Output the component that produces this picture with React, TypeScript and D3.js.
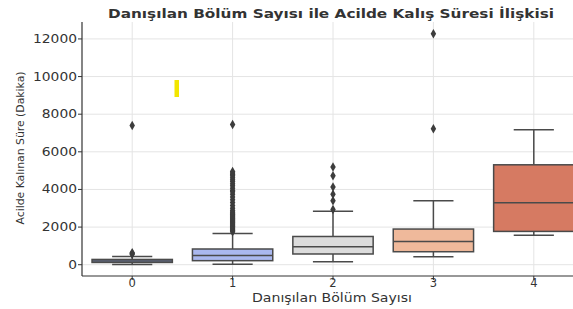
import * as d3 from "d3";

// Boxplot: consulted department count vs. ED length of stay (minutes)
const categories = ["0", "1", "2", "3", "4"];
const q1 = [120, 215, 570, 690, 1770];
const medians = [200, 495, 960, 1240, 3290];
const q3 = [280, 835, 1500, 1895, 5310];
const whiskLow = [10, 30, 160, 425, 1560];
const whiskHigh = [430, 1660, 2840, 3400, 7170];
const outliers: number[][] = [
  [560, 600, 640, 7400],
  [
    1750, 1800, 1850, 1900, 1950, 2000, 2050, 2100, 2150, 2200, 2250, 2300, 2350,
    2400, 2450, 2500, 2550, 2600, 2650, 2700, 2750, 2800, 2880, 3000, 3150, 3300,
    3450, 3600, 3750, 3880, 3950, 4070, 4200, 4300, 4420, 4510, 4620, 4730, 4800,
    4870, 4950, 7450,
  ],
  [2930, 3400, 3750, 4130, 4730, 5190],
  [7220, 12270],
  [],
];
const fills = ["#8ea6ee", "#aab8ef", "#dcdcdc", "#efb99b", "#d67a62"];
const yTicks = [0, 2000, 4000, 6000, 8000, 10000, 12000];

const W = 573;
const H = 309;
const L = 82;
const T = 22;
const B = 276;

export default function App() {
  const x = d3.scaleBand<string>().domain(categories).range([L, 584]).padding(0);
  const y = d3.scaleLinear().domain([-600, 12900]).range([B, T]);
  const bw = x.bandwidth();
  const boxW = bw * 0.8;
  const cx = (c: string) => (x(c) ?? 0) + bw / 2;
  const ink = "#4a4a4a";
  const diamond = d3.symbol(d3.symbolDiamond, 26)() ?? "";

  return (
    <svg
      width={W}
      height={H}
      viewBox={`0 0 ${W} ${H}`}
      style={{ position: "absolute", left: 0, top: 0, background: "#fff", fontFamily: "DejaVu Sans" }}
    >
      {/* grid */}
      {yTicks.map((t) => (
        <line key={"gy" + t} x1={L} x2={W} y1={y(t)} y2={y(t)} stroke="#e4e4e4" strokeWidth={1} />
      ))}
      {categories.map((c) => (
        <line key={"gx" + c} x1={cx(c)} x2={cx(c)} y1={T} y2={B} stroke="#e4e4e4" strokeWidth={1} />
      ))}

      {/* boxes */}
      {categories.map((c, i) => {
        const m = cx(c);
        return (
          <g key={"b" + c} stroke={ink} strokeWidth={1.5}>
            <line x1={m} x2={m} y1={y(whiskLow[i])} y2={y(q1[i])} />
            <line x1={m} x2={m} y1={y(q3[i])} y2={y(whiskHigh[i])} />
            <line x1={m - boxW / 4} x2={m + boxW / 4} y1={y(whiskLow[i])} y2={y(whiskLow[i])} />
            <line x1={m - boxW / 4} x2={m + boxW / 4} y1={y(whiskHigh[i])} y2={y(whiskHigh[i])} />
            <rect x={m - boxW / 2} y={y(q3[i])} width={boxW} height={y(q1[i]) - y(q3[i])} fill={fills[i]} />
            <line x1={m - boxW / 2} x2={m + boxW / 2} y1={y(medians[i])} y2={y(medians[i])} />
            {outliers[i].map((v, j) => (
              <path key={j} d={diamond} transform={`translate(${m},${y(v)})`} fill="#3d3d3d" stroke="none" />
            ))}
          </g>
        );
      })}

      {/* axes */}
      <line x1={L} x2={L} y1={T} y2={B} stroke="#333" strokeWidth={1.2} />
      <line x1={L} x2={W} y1={B} y2={B} stroke="#333" strokeWidth={1.2} />
      {yTicks.map((t) => (
        <g key={"ty" + t}>
          <line x1={L - 4} x2={L} y1={y(t)} y2={y(t)} stroke="#333" />
          <text
            x={L - 5}
            y={y(t)}
            dy="0.35em"
            textAnchor="end"
            fontSize={11.5}
            fill="#333"
            textLength={String(t).length * 8.8}
            lengthAdjust="spacingAndGlyphs"
          >
            {t}
          </text>
        </g>
      ))}
      {categories.map((c) => (
        <g key={"tx" + c}>
          <line x1={cx(c)} x2={cx(c)} y1={B} y2={B + 4} stroke="#333" />
          <text x={cx(c)} y={B + 11} textAnchor="middle" fontSize={11.5} fill="#333">
            {c}
          </text>
        </g>
      ))}

      <text
        x={332}
        y={302}
        textAnchor="middle"
        fontSize={12}
        fill="#333"
        textLength={160}
        lengthAdjust="spacingAndGlyphs"
      >
        Danışılan Bölüm Sayısı
      </text>
      <text
        transform="translate(24,148) rotate(-90)"
        textAnchor="middle"
        fontSize={11}
        fill="#333"
        textLength={153}
        lengthAdjust="spacingAndGlyphs"
      >
        Acilde Kalınan Süre (Dakika)
      </text>
      <text
        x={331}
        y={18}
        textAnchor="middle"
        fontSize={12.5}
        fontWeight="bold"
        fill="#333"
        textLength={446}
        lengthAdjust="spacingAndGlyphs"
      >
        Danışılan Bölüm Sayısı ile Acilde Kalış Süresi İlişkisi
      </text>

      {/* yellow highlight mark present in the source image */}
      <rect x={174.5} y={80} width={4.5} height={17} fill="#f2e600" />
    </svg>
  );
}
